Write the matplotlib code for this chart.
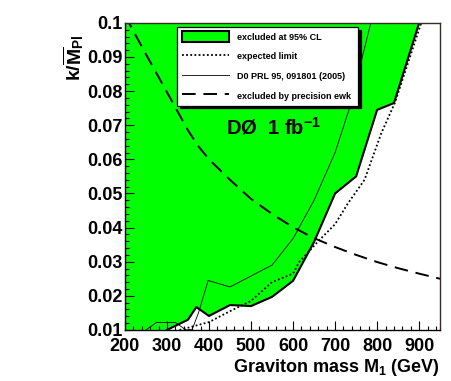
import matplotlib
matplotlib.use('Agg')
import matplotlib.pyplot as plt
from matplotlib.lines import Line2D
from matplotlib.patches import Patch
from matplotlib.ticker import MultipleLocator

plt.rcParams['font.family'] = ['Liberation Sans', 'DejaVu Sans']
plt.rcParams['font.weight'] = 'bold'
plt.rcParams['mathtext.fontset'] = 'custom'
plt.rcParams['mathtext.rm'] = 'Liberation Sans:bold'
plt.rcParams['mathtext.bf'] = 'Liberation Sans:bold'
plt.rcParams['mathtext.it'] = 'Liberation Sans:bold'

# observed 95% CL exclusion boundary
obs_m = [300, 350, 370, 400, 450, 500, 550, 600, 650, 700, 750, 800, 840, 900]
obs_k = [0.0100, 0.0130, 0.0167, 0.0141, 0.0173, 0.0170, 0.0197, 0.0244,
         0.0358, 0.0500, 0.0550, 0.0745, 0.0765, 0.1000]

# expected limit
exp_m = [330, 400, 450, 500, 550, 600, 615, 660, 700, 730, 770, 810, 842, 905]
exp_k = [0.0100, 0.0123, 0.0155, 0.0185, 0.0240, 0.0265, 0.0300, 0.0360,
         0.0410, 0.0470, 0.0540, 0.0677, 0.0765, 0.1000]

# D0 PRL 95, 091801 (2005)
prl_m = [250, 275, 320, 345, 360, 375, 398, 450, 500, 550, 600, 650, 700, 735, 785]
prl_k = [0.0100, 0.0122, 0.0122, 0.0100, 0.0102, 0.0150, 0.0245, 0.0226,
         0.0258, 0.0290, 0.0368, 0.0480, 0.0620, 0.0753, 0.1000]

# excluded by precision electroweak
ewk_m = [200, 250, 300, 350, 375, 400, 450, 500, 550, 600, 650, 700, 750, 800, 850, 900, 950]
ewk_k = [0.1022, 0.0908, 0.0797, 0.0685, 0.0638, 0.0600, 0.0540, 0.0484,
         0.0440, 0.0401, 0.0369, 0.0343, 0.0320, 0.0299, 0.0281, 0.0265, 0.0250]

xlim = (200, 950)
ylim = (0.01, 0.1)

fig = plt.figure(figsize=(4.51, 3.81), dpi=100)
ax = fig.add_axes([0.277, 0.134, 0.699, 0.806])

# green excluded region: left edge and top of the frame, closed by the boundary
poly_x = [xlim[0]] + obs_m + [xlim[0]]
poly_y = [ylim[0]] + obs_k + [ylim[1]]
ax.fill(poly_x, poly_y, color='#00ff00', lw=0)
ax.plot(obs_m, obs_k, color='black', lw=1.5)
ax.plot(exp_m, exp_k, color='black', lw=1.3, linestyle=(0, (1, 1.3)))
ax.plot(prl_m, prl_k, color='black', lw=0.6)
ax.plot(ewk_m, ewk_k, color='black', lw=1.4, linestyle=(0, (7, 4)))

ax.set_xlim(*xlim)
ax.set_ylim(*ylim)
ax.xaxis.set_major_locator(MultipleLocator(100))
ax.xaxis.set_minor_locator(MultipleLocator(20))
ax.yaxis.set_major_locator(MultipleLocator(0.01))
ax.yaxis.set_minor_locator(MultipleLocator(0.002))
ax.yaxis.set_major_formatter(plt.FuncFormatter(
    lambda v, p: '0.1' if abs(v - 0.1) < 1e-9 else f'{v:.2f}'))
ax.tick_params(which='both', direction='in', top=False, right=False,
               labelsize=13, width=0.8)
ax.tick_params(which='major', length=6.5)
ax.tick_params(which='minor', length=3)
ax.tick_params(axis='y', pad=2)
ax.tick_params(axis='x', pad=5.5)
for s in ax.spines.values():
    s.set_linewidth(1.0)
    s.set_color('#3a2a2a')
ax.spines['left'].set_color('black')
ax.spines['bottom'].set_color('black')

ax.set_xlabel('Graviton mass M$_\\mathbf{1}$ (GeV)', fontsize=13, fontweight='bold',
              loc='right', labelpad=2)
ax.set_ylabel(r'$\mathbf{k/\overline{M}_{Pl}}$', fontsize=14, loc='top')
ax.yaxis.set_label_coords(-0.125, 0.962)

ax.text(553, 0.0693, r'DØ  1 fb$^{\mathbf{-1}}$', fontsize=14.5, fontweight='bold',
        ha='center', va='center')

handles = [
    Patch(facecolor='#00ff00', edgecolor='black', lw=1.5),
    Line2D([], [], color='black', lw=1.3, linestyle=(0, (1, 1.3))),
    Line2D([], [], color='black', lw=0.6),
    Line2D([], [], color='black', lw=1.4, linestyle=(0, (7, 4))),
]
labels = ['excluded at 95% CL', 'expected limit', 'D0 PRL 95, 091801 (2005)',
          'excluded by precision ewk']
leg = ax.legend(handles, labels, loc='upper left',
                bbox_to_anchor=(0.152, 0.752, 0.603, 0.25),
                mode='expand', fancybox=False, framealpha=1,
                edgecolor='black', prop={'size': 6.5, 'weight': 'bold'},
                handlelength=5.2, handleheight=1.5, labelspacing=0.95,
                borderpad=0.5, handletextpad=0.9,
                shadow={'color': 'black', 'alpha': 1})
leg.get_frame().set_linewidth(0.9)

fig.savefig('out.png', dpi=100)
